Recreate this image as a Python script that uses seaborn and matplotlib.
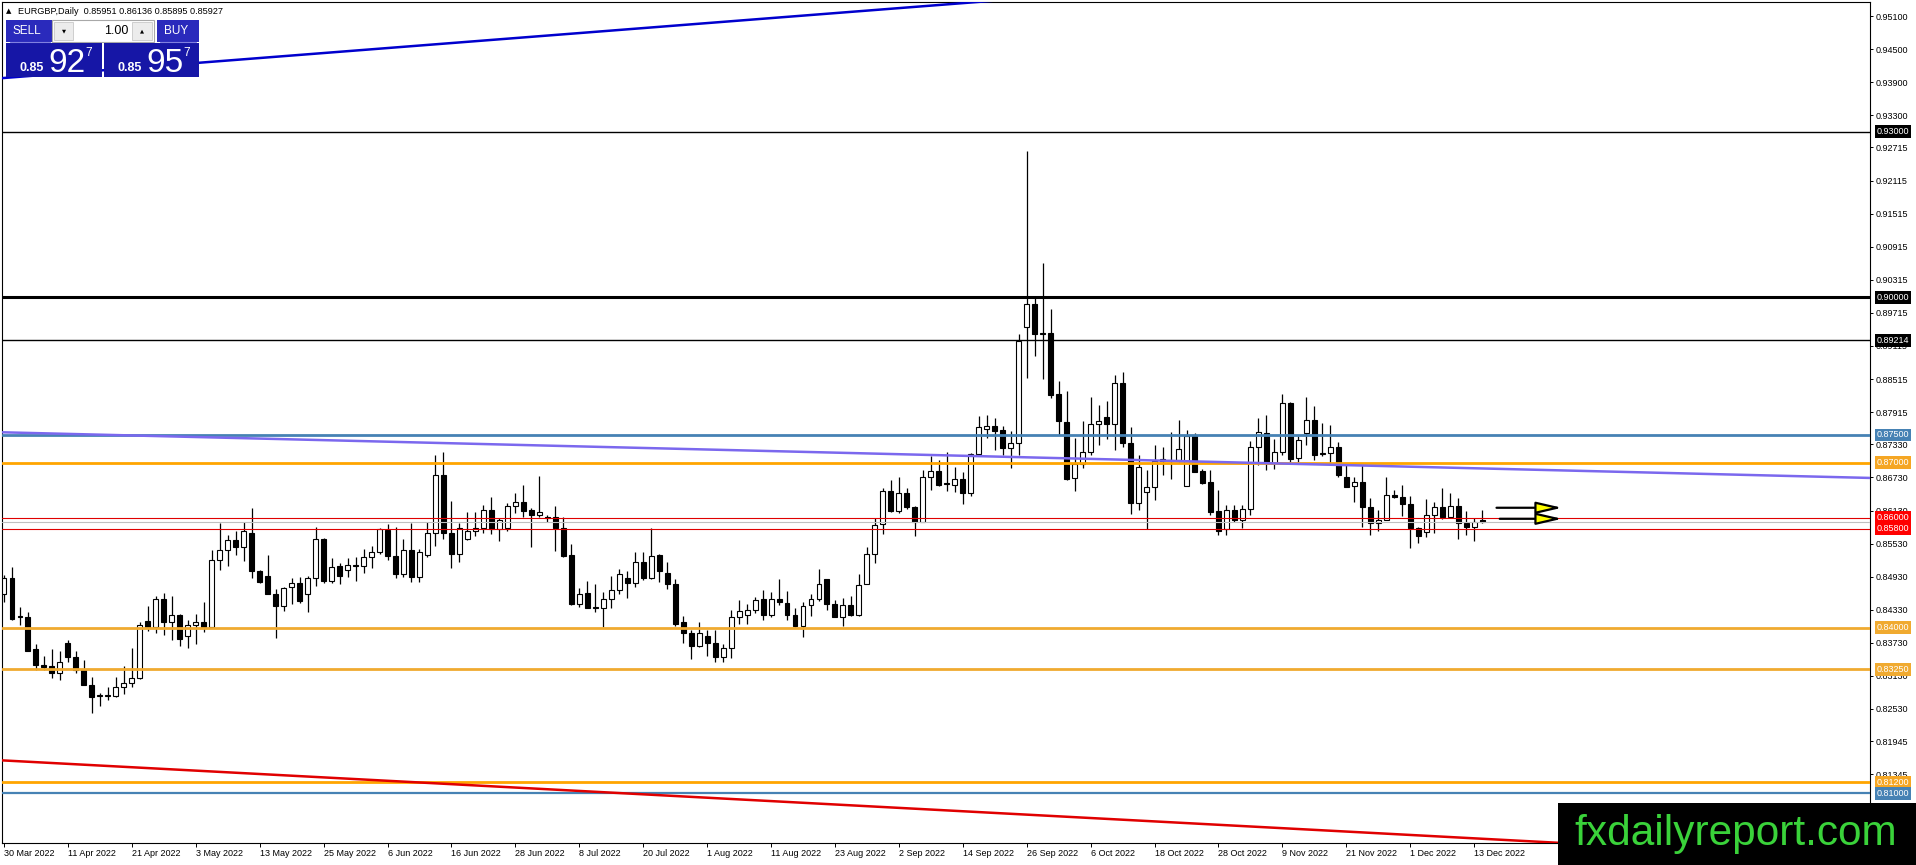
import matplotlib
matplotlib.use("Agg")
import numpy as np
import pandas as pd
import seaborn as sns
import matplotlib.pyplot as plt
import matplotlib.transforms as mtransforms
from matplotlib.patches import Rectangle
from matplotlib import font_manager

# ---------------- data ----------------
opens = [.8461,.8490,.8421,.8419,.8361,.8333,.8331,.8318,.8372,.8348,.8323,.8297,.8277,.8277,.8277,.8293,.8300,.8309,.8413,.8402,
         .8453,.8411,.8423,.8386,.8406,.8410,.8402,.8523,.8541,.8559,.8546,.8573,.8504,.8494,.8462,.8440,.8474,.8482,.8461,.8490,
         .8562,.8486,.8512,.8505,.8515,.8513,.8528,.8538,.8578,.8531,.8498,.8541,.8493,.8532,.8573,.8678,.8573,.8535,.8561,.8576,
         .8581,.8614,.8580,.8581,.8622,.8628,.8614,.8604,.8602,.8602,.8582,.8533,.8444,.8464,.8438,.8437,.8453,.8468,.8491,.8482,
         .8520,.8491,.8533,.8500,.8480,.8410,.8390,.8368,.8385,.8372,.8347,.8363,.8419,.8423,.8433,.8452,.8424,.8453,.8446,.8424,
         .8403,.8442,.8453,.8488,.8444,.8420,.8442,.8424,.8480,.8534,.8589,.8649,.8613,.8645,.8620,.8593,.8674,.8684,.8663,.8660,
         .8670,.8645,.8716,.8761,.8767,.8759,.8726,.8735,.8946,.8987,.8935,.8935,.8824,.8773,.8672,.8698,.8720,.8770,.8782,.8770,
         .8844,.8735,.8627,.8647,.8656,.8702,.8703,.8704,.8658,.8749,.8684,.8664,.8612,.8579,.8614,.8595,.8615,.8729,.8754,.8700,
         .8719,.8808,.8708,.8754,.8777,.8715,.8718,.8728,.8673,.8657,.8664,.8620,.8590,.8596,.8642,.8637,.8624,.8581,.8574,.8604,
         .8619,.8602,.8622,.8590,.8584,.85951]
highs = [.8496,.8511,.8438,.8429,.8370,.8350,.8361,.8359,.8378,.8358,.8341,.8311,.8282,.8293,.8311,.8331,.8364,.8411,.8440,.8458,
         .8464,.8458,.8426,.8415,.8426,.8447,.8542,.8591,.8568,.8576,.8593,.8617,.8506,.8532,.8471,.8475,.8491,.8493,.8494,.8584,
         .8564,.8526,.8517,.8526,.8529,.8544,.8549,.8582,.8589,.8584,.8562,.8590,.8544,.8592,.8714,.8719,.8630,.8590,.8610,.8610,
         .8623,.8638,.8599,.8626,.8644,.8659,.8617,.8676,.8605,.8621,.8601,.8552,.8472,.8486,.8480,.8466,.8495,.8507,.8503,.8537,
         .8537,.8581,.8534,.8520,.8488,.8422,.8397,.8411,.8397,.8397,.8371,.8433,.8450,.8443,.8457,.8468,.8466,.8489,.8467,.8437,
         .8447,.8462,.8507,.8489,.8451,.8454,.8458,.8498,.8547,.8599,.8654,.8669,.8674,.8653,.8621,.8686,.8711,.8705,.8720,.8692,
         .8682,.8717,.8784,.8787,.8780,.8767,.8758,.8933,.9266,.9000,.9062,.8978,.8848,.8830,.8744,.8776,.8818,.8805,.8812,.8859,
         .8865,.8765,.8714,.8686,.8731,.8728,.8755,.8778,.8759,.8754,.8689,.8687,.8650,.8623,.8623,.8623,.8740,.8781,.8787,.8742,
         .8824,.8810,.8749,.8819,.8803,.8772,.8768,.8737,.8695,.8674,.8695,.8635,.8614,.8673,.8650,.8659,.8639,.8584,.8634,.8629,
         .8653,.8644,.8635,.8613,.8600,.86136]
lows = [.8447,.8414,.8405,.8358,.8324,.8324,.8310,.8305,.8338,.8318,.8296,.8245,.8258,.8270,.8275,.8281,.8292,.8308,.8395,.8391,
        .8387,.8379,.8368,.8364,.8370,.8393,.8401,.8506,.8513,.8533,.8522,.8490,.8482,.8461,.8381,.8431,.8444,.8446,.8429,.8476,
        .8482,.8482,.8479,.8492,.8486,.8500,.8508,.8534,.8523,.8490,.8493,.8484,.8484,.8529,.8549,.8562,.8508,.8520,.8559,.8566,
        .8572,.8570,.8558,.8575,.8608,.8601,.8547,.8602,.8593,.8540,.8529,.8441,.8438,.8436,.8429,.8402,.8436,.8462,.8454,.8474,
        .8487,.8489,.8483,.8471,.8403,.8372,.8343,.8366,.8350,.8338,.8339,.8345,.8408,.8408,.8427,.8415,.8420,.8442,.8415,.8402,
        .8384,.8422,.8448,.8432,.8419,.8404,.8422,.8422,.8479,.8517,.8570,.8610,.8609,.8615,.8566,.8592,.8651,.8657,.8648,.8646,
        .8624,.8640,.8714,.8744,.8723,.8714,.8690,.8714,.8853,.8893,.8851,.8817,.8750,.8668,.8648,.8690,.8714,.8732,.8743,.8722,
        .8728,.8606,.8614,.8579,.8632,.8678,.8670,.8701,.8657,.8682,.8661,.8605,.8569,.8569,.8593,.8581,.8605,.8696,.8687,.8689,
        .8713,.8701,.8701,.8731,.8704,.8711,.8695,.8674,.8655,.8629,.8584,.8569,.8575,.8595,.8635,.8603,.8545,.8554,.8565,.8573,
        .8597,.8600,.8561,.8569,.8557,.85895]
closes = [.8490,.8416,.8420,.8359,.8333,.8330,.8318,.8339,.8348,.8324,.8297,.8275,.8279,.8278,.8293,.8300,.8310,.8406,.8402,.8453,
          .8411,.8423,.8380,.8406,.8410,.8402,.8523,.8542,.8559,.8546,.8576,.8504,.8484,.8462,.8440,.8473,.8482,.8449,.8490,.8561,
          .8485,.8510,.8494,.8515,.8513,.8528,.8538,.8580,.8531,.8498,.8541,.8493,.8537,.8573,.8678,.8573,.8535,.8582,.8575,.8581,
          .8614,.8580,.8596,.8622,.8628,.8613,.8604,.8611,.8600,.8582,.8531,.8443,.8461,.8437,.8437,.8453,.8468,.8498,.8482,.8520,
          .8491,.8531,.8504,.8480,.8407,.8390,.8368,.8390,.8372,.8347,.8363,.8419,.8431,.8433,.8451,.8424,.8453,.8447,.8424,.8404,
          .8440,.8453,.8480,.8444,.8420,.8442,.8424,.8478,.8534,.8587,.8649,.8612,.8645,.8620,.8593,.8673,.8684,.8660,.8661,.8670,
          .8645,.8716,.8764,.8767,.8758,.8726,.8735,.8921,.8987,.8934,.8934,.8823,.8776,.8671,.8698,.8720,.8770,.8776,.8770,.8844,
          .8735,.8627,.8692,.8656,.8702,.8707,.8705,.8725,.8749,.8683,.8663,.8611,.8575,.8614,.8595,.8616,.8729,.8755,.8700,.8719,
          .8808,.8707,.8741,.8777,.8714,.8718,.8728,.8677,.8656,.8664,.8619,.8590,.8596,.8642,.8637,.8624,.8581,.8567,.8604,.8619,
          .8602,.8622,.8590,.8584,.8593,.85927]

date_labels = ["30 Mar 2022", "11 Apr 2022", "21 Apr 2022", "3 May 2022", "13 May 2022", "25 May 2022",
               "6 Jun 2022", "16 Jun 2022", "28 Jun 2022", "8 Jul 2022", "20 Jul 2022", "1 Aug 2022",
               "11 Aug 2022", "23 Aug 2022", "2 Sep 2022", "14 Sep 2022", "26 Sep 2022", "6 Oct 2022",
               "18 Oct 2022", "28 Oct 2022", "9 Nov 2022", "21 Nov 2022", "1 Dec 2022", "13 Dec 2022"]
date_bars = [0, 8, 16, 24, 32, 40, 48, 56, 64, 72, 80, 88, 96, 104, 112, 120, 128, 136, 144, 152, 160, 168, 176, 184]

price_ticks = ["0.95100", "0.94500", "0.93900", "0.93300", "0.92715", "0.92115", "0.91515", "0.90915",
               "0.90315", "0.89715", "0.89115", "0.88515", "0.87915", "0.87330", "0.86730", "0.86130",
               "0.85530", "0.84930", "0.84330", "0.83730", "0.83130", "0.82530", "0.81945", "0.81345"]

levels = [0.93000, 0.90000, 0.89214, 0.87500, 0.87000, 0.86000, 0.85800, 0.84000, 0.83250, 0.81200, 0.81000]
bid_price = 0.85927

# trend lines: (bar, price) end points
blue_trend_bars = [-0.5, 125.0]
blue_trend_prices = [0.9397, 0.9539]
purple_trend_bars = [-0.5, 233.8]
purple_trend_prices = [0.8755, 0.8672]
red_trend_bars = [-0.5, 234.0]
red_trend_prices = [0.8160, 0.7980]

arrow_prices = [0.8618, 0.8598]
arrow_bar_start = [186.8, 187.2]
arrow_bar_end = [195.0, 195.0]

lot_size = "1.00"
sell_big, buy_big = "92", "95"
price_prefix, pip_digit = "0.85", "7"

# ---------------- styling ----------------
level_colors = ["black", "black", "black", "#4682B4", "#FFA500", "#E00000", "#E00000",
                "#F0AA30", "#F0AA30", "#FFA500", "#4682B4"]
level_box_colors = ["black", "black", "black", "#4682B4", "#F5A623", "red", "red",
                    "#F0AA30", "#F0AA30", "#F5A623", "#4682B4"]
level_widths = [1.0, 2.2, 1.0, 2.0, 2.0, 0.8, 0.8, 2.0, 2.0, 2.0, 1.6]

sns.set_theme(style="white")
plt.rcParams["font.family"] = ["Liberation Sans", "DejaVu Sans"]
plt.rcParams["axes.linewidth"] = 0.8

installed = {f.name for f in font_manager.fontManager.ttflist}
NARROW = "Liberation Sans Narrow" in installed

W, H = 1916, 865
fig = plt.figure(figsize=(W / 100, H / 100), dpi=100)
fig.patch.set_facecolor("white")
PL, PR, PT, PB = 2, 1870, 2, 843
ax = fig.add_axes([PL / W, 1 - PB / H, (PR - PL) / W, (PB - PT) / H])
ax.set_facecolor("white")

df = pd.DataFrame({"bar": np.arange(len(opens)), "open": opens, "high": highs,
                   "low": lows, "close": closes})
df["top"] = df[["open", "close"]].max(axis=1)
df["bottom"] = df[["open", "close"]].min(axis=1)
df["h"] = (df["top"] - df["bottom"]).clip(lower=0.00007)
df["up"] = df["close"] > df["open"]

ax.vlines(df["bar"], df["low"], df["high"], color="black", lw=0.9, zorder=3)
up = df[df["up"]]
dn = df[~df["up"]]
ax.bar(up["bar"], up["h"], bottom=up["bottom"], width=0.62, color="white",
       edgecolor="black", linewidth=0.8, zorder=4)
ax.bar(dn["bar"], dn["h"], bottom=dn["bottom"], width=0.62, color="black",
       edgecolor="black", linewidth=0.8, zorder=4)

# horizontal levels
for lv, c, lw in zip(levels, level_colors, level_widths):
    ax.axhline(lv, color=c, lw=lw, zorder=5)
ax.axhline(bid_price, color="#C0C0C0", lw=0.8, zorder=4.5)

# trend lines via seaborn
sns.lineplot(x=blue_trend_bars, y=blue_trend_prices, ax=ax, color="#0000CD", lw=1.8,
             legend=False, zorder=5)
sns.lineplot(x=purple_trend_bars, y=purple_trend_prices, ax=ax, color="#7B68EE", lw=1.8,
             legend=False, zorder=5)
sns.lineplot(x=red_trend_bars, y=red_trend_prices, ax=ax, color="#E00000", lw=1.8,
             legend=False, zorder=5)

# arrows
for p, xs, xe in zip(arrow_prices, arrow_bar_start, arrow_bar_end):
    ax.annotate("", xy=(xe, p), xytext=(xs, p),
                arrowprops=dict(arrowstyle="-|>,head_length=1.3,head_width=0.3",
                                fc="#FFFF00", ec="black", lw=1.6, shrinkA=0, shrinkB=0),
                zorder=6)

x_per_px = 1 / 7.99
ax.set_xlim(-0.25, -0.25 + (PR - PL) * x_per_px)
ppx = 1 / 5513.0
ax.set_ylim(0.951 - (PB - 16) * ppx, 0.951 + (16 - PT) * ppx)
ax.set_xlabel("")
ax.set_ylabel("")

ax.yaxis.tick_right()
ax.set_yticks([float(s) for s in price_ticks])
ax.set_yticklabels(price_ticks)
ax.tick_params(axis="y", direction="out", length=2.5, width=0.7, pad=1.8, labelsize=6.5,
               colors="black", right=True, left=False)
ax.set_xticks(date_bars)
ax.set_xticklabels(date_labels, ha="left")
ax.tick_params(axis="x", direction="out", length=3, width=0.7, pad=1.5, labelsize=6.5,
               colors="black", bottom=True)
for s in ax.spines.values():
    s.set_color("black")
    s.set_linewidth(0.8)

# level labels on the price scale
trans = mtransforms.blended_transform_factory(ax.transAxes, ax.transData)
for lv, bc in zip(levels, level_box_colors):
    ax.text(1.0 + 6.5 / (PR - PL), lv, f"{lv:.5f}", transform=trans, ha="left", va="center",
            fontsize=6.5, color="white", clip_on=False, zorder=10,
            bbox=dict(boxstyle="square,pad=0.22", fc=bc, ec="none"))

# ---------------- overlay (pixel coordinates) ----------------
ov = fig.add_axes([0, 0, 1, 1], zorder=10)
ov.set_xlim(0, W)
ov.set_ylim(H, 0)
ov.axis("off")
ov.patch.set_alpha(0)

ov.text(6, 11, "\u25B2", fontsize=5, va="center", ha="left", color="black",
        family=["DejaVu Sans"])
ov.text(18, 11, f"EURGBP,Daily  {opens[-1]:.5f} {highs[-1]:.5f} {lows[-1]:.5f} {closes[-1]:.5f}",
        fontsize=6.6, va="center", ha="left", color="black")

narrow_fam = ["Liberation Sans Narrow", "Liberation Sans"] if NARROW else ["Liberation Sans"]
big_fs = 28 if NARROW else 24
hdr_fs = 10 if NARROW else 8.5

hdr_c, box_c = "#2a2abc", "#1616a6"
ov.add_patch(Rectangle((6, 20), 46, 22, fc=hdr_c, ec="none"))
ov.add_patch(Rectangle((157, 20), 42, 22, fc=hdr_c, ec="none"))
ov.plot([10, 50], [41.5, 41.5], color="#8080e0", lw=0.8)
ov.plot([160, 196], [41.5, 41.5], color="#8080e0", lw=0.8)
ov.text(27, 31, "SELL", fontsize=hdr_fs, color="white", ha="center", va="center", family=narrow_fam)
ov.text(176, 31, "BUY", fontsize=hdr_fs, color="white", ha="center", va="center", family=narrow_fam)
ov.add_patch(Rectangle((52, 20), 102, 22, fc="white", ec="#a8a8a8", lw=0.8))
ov.add_patch(Rectangle((54, 22), 19, 18, fc="#ececec", ec="#c8c8c8", lw=0.6))
ov.add_patch(Rectangle((132, 22), 20, 18, fc="#ececec", ec="#c8c8c8", lw=0.6))
ov.text(63.5, 31, "\u25BC", fontsize=3.8, color="black", ha="center", va="center",
        family=["DejaVu Sans"])
ov.text(142, 31, "\u25B2", fontsize=3.8, color="black", ha="center", va="center",
        family=["DejaVu Sans"])
ov.text(128, 31, lot_size, fontsize=9, color="black", ha="right", va="center")

ov.add_patch(Rectangle((6, 43), 96, 34, fc=box_c, ec="none"))
ov.add_patch(Rectangle((104, 43), 95, 34, fc=box_c, ec="none"))
for x0, big in [(20, sell_big), (118, buy_big)]:
    ov.text(x0, 71, price_prefix, fontsize=9, color="white", fontweight="bold",
            ha="left", va="baseline")
    ov.text(x0 + 28, 71.5, big, fontsize=big_fs, color="white", ha="left", va="baseline",
            family=narrow_fam)
    ov.text(x0 + 65, 55.5, pip_digit, fontsize=8.5, color="white", ha="left", va="baseline")

# watermark
ov.add_patch(Rectangle((1558, 803), W - 1558, H - 803, fc="black", ec="none"))
ov.text(1574, 845, "fxdailyreport.com", fontsize=30.5, color="#3ad23a",
        ha="left", va="baseline")

fig.savefig("out.png", dpi=100, facecolor="white")
